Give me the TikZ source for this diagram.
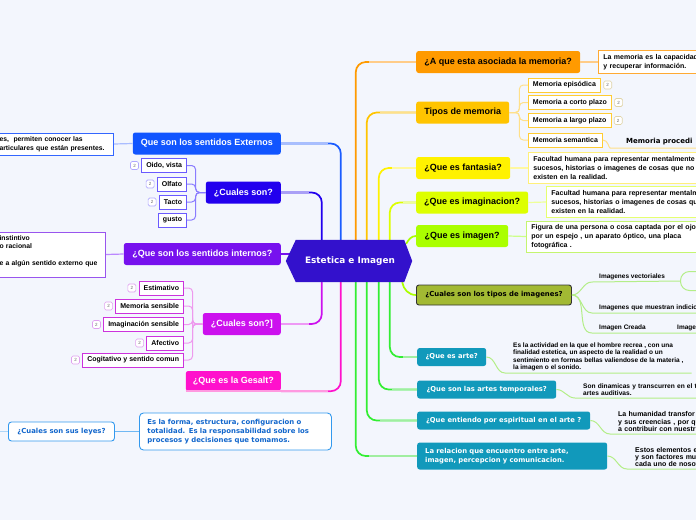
\documentclass[tikz,border=0pt]{standalone}
\usepackage{fontspec}
\setmainfont{Liberation Sans}
\newfontfamily\dv{DejaVu Sans}
\usetikzlibrary{calc,positioning}
\newcommand\myfs[2]{\fontsize{#1}{#2}\selectfont}
\definecolor{bgc}{HTML}{F3F6FD}
\definecolor{hubc}{HTML}{3311CC}
\definecolor{cOr}{HTML}{FF9A00}\definecolor{cOrL}{HTML}{FFCC88}\definecolor{cOrB}{HTML}{FFAA33}
\definecolor{cTm}{HTML}{FFC400}\definecolor{cTmL}{HTML}{FFE08A}\definecolor{cTmB}{HTML}{FFCC33}
\definecolor{cFa}{HTML}{FFF200}\definecolor{cFaL}{HTML}{FFF8A0}\definecolor{cFaB}{HTML}{FFF07A}
\definecolor{cIm}{HTML}{DDFF00}\definecolor{cImL}{HTML}{EEFF99}\definecolor{cImB}{HTML}{E6FF70}
\definecolor{cIg}{HTML}{AAFF00}\definecolor{cIgL}{HTML}{CCFF88}\definecolor{cIgB}{HTML}{C4F570}
\definecolor{cOl}{HTML}{A2B933}
\definecolor{cLeafG}{HTML}{B4EE88}
\definecolor{cTe}{HTML}{1199BB}
\definecolor{cGr}{HTML}{33EE33}\definecolor{cGrL}{HTML}{A0EEA0}
\definecolor{cE1}{HTML}{1155FF}\definecolor{cC1}{HTML}{1A5CFF}\definecolor{cC1L}{HTML}{AABDFF}\definecolor{cE1B}{HTML}{3366FF}
\definecolor{cE2}{HTML}{2200EE}\definecolor{cC2L}{HTML}{A9A0F5}\definecolor{cE2B}{HTML}{6A5AFF}\definecolor{cE2K}{HTML}{8A7CFF}
\definecolor{cE3}{HTML}{7711EE}\definecolor{cE3L}{HTML}{BB88FF}\definecolor{cE3B}{HTML}{9955EE}
\definecolor{cE4}{HTML}{CC11EE}\definecolor{cE4L}{HTML}{EE99F5}\definecolor{cE4B}{HTML}{CC33DD}\definecolor{cE4K}{HTML}{EE9AEE}
\definecolor{cE5}{HTML}{FF11CC}\definecolor{cE5L}{HTML}{FF99E0}
\definecolor{cL}{HTML}{3399EE}\definecolor{cLT}{HTML}{1166CC}
\definecolor{bdV}{HTML}{B0A8FF}\definecolor{bdM}{HTML}{E0A0F0}\definecolor{bdY}{HTML}{E0D4A8}
\begin{document}
\begin{tikzpicture}[x=1pt,y=-1pt,
 mainbox/.style={rounded corners=2.5pt, minimum height=22pt, inner sep=0pt, font=\myfs{9}{10}\bfseries},
 tealbox/.style={rounded corners=2.5pt, fill=cTe, text=white, minimum height=18pt, inner sep=0pt, anchor=west, font=\dv\myfs{6.8}{8.8}\bfseries},
 kid/.style={draw, fill=white, line width=0.9pt, minimum height=14pt, inner xsep=4.5pt, inner ysep=0pt, font=\myfs{7}{8}\bfseries},
 badge/.style={draw, fill=white, rounded corners=1.5pt, minimum size=8pt, inner sep=0pt, line width=0.6pt, font=\myfs{4.5}{5}, text=black!60},
 note/.style={draw, fill=white, line width=0.9pt, inner xsep=5pt, inner ysep=0pt, align=left, font=\myfs{7}{9}\bfseries},
 leaf/.style={inner xsep=7pt, inner ysep=2pt, align=left, font=\myfs{6.5}{7.4}\bfseries, anchor=south west},
 leafl/.style={line width=1pt, cLeafG},
 conn/.style={line width=1.7pt, rounded corners=10pt},
 connfade/.style={line width=1.7pt},
 brk/.style={line width=1pt, rounded corners=4pt}
]
\useasboundingbox (0,0) rectangle (696,520);
\clip (0,0) rectangle (696,520);
\fill[bgc] (0,0) rectangle (696,520);

% hub frame
\node[minimum width=108pt, minimum height=42pt, inner sep=0pt] (hub) at (350,261) {};
\coordinate (tA) at ($(hub.north west)+(26,0)$);
\coordinate (tB) at ($(hub.north west)+(45,0)$);
\coordinate (tC) at ($(hub.north west)+(60,0)$);
\coordinate (tD) at ($(hub.north west)+(71,0)$);
\coordinate (tE) at ($(hub.north west)+(83,0)$);
\coordinate (tF) at ($(hub.north west)+(94,0)$);
\coordinate (bA) at ($(hub.south west)+(26,0)$);
\coordinate (bB) at ($(hub.south west)+(45,0)$);
\coordinate (bC) at ($(hub.south west)+(60,0)$);
\coordinate (bD) at ($(hub.south west)+(71,0)$);
\coordinate (bE) at ($(hub.south west)+(83,0)$);
\coordinate (bF) at ($(hub.south west)+(94,0)$);
\coordinate (rT) at ($(hub.north east)+(2,4)$);
\coordinate (rB) at ($(hub.south east)+(-2,0)$);
\coordinate (lW) at ($(hub.west)+(-6,-7)$);

% ---------- main boxes ----------
\node[mainbox, anchor=west, fill=cOr, minimum width=164pt] (q1) at (416,62) {¿A que esta asociada la memoria?};
\node[mainbox, anchor=west, fill=cTm, minimum width=93pt] (q2) at (416,112.5) {Tipos de memoria};
\node[mainbox, anchor=west, fill=cFa, minimum width=94pt] (q3) at (416,168) {¿Que es fantasia?};
\node[mainbox, anchor=west, fill=cIm, minimum width=112pt] (q4) at (416,202.5) {¿Que es imaginacion?};
\node[mainbox, anchor=west, fill=cIg, minimum width=92pt] (q5) at (416,236) {¿Que es imagen?};
\node[rounded corners=2.5pt, anchor=west, fill=cOl, draw=black!80, line width=0.9pt, minimum width=155pt, minimum height=20pt, inner sep=0pt, font=\dv\myfs{6.9}{8}\bfseries] (q6) at (416,295) {¿Cuales son los tipos de imagenes?};
\node[tealbox, minimum width=69pt] (t1) at (417,357) {¿Que es arte?};
\node[tealbox, minimum width=139pt] (t2) at (417,389.5) {¿Que son las artes temporales?};
\node[tealbox, minimum width=173pt] (t3) at (417,420.5) {¿Que entiendo por espiritual en el arte ?};
\node[tealbox, minimum height=27pt, text width=174pt, inner xsep=8pt, align=left] (t4) at (417,456) {La relacion que encuentro entre arte,\\imagen, percepcion y comunicacion.};

\node[mainbox, anchor=east, fill=cE1, text=white, minimum width=148pt] (e1) at (281,143.5) {Que son los sentidos Externos};
\node[mainbox, anchor=east, fill=cE2, text=white, minimum width=75pt] (e2) at (281,192.5) {¿Cuales son?};
\node[mainbox, anchor=east, fill=cE3, text=white, minimum width=157pt] (e3) at (281,254) {¿Que son los sentidos internos?};
\node[mainbox, anchor=east, fill=cE4, text=white, minimum width=78pt] (e4) at (281,324) {¿Cuales son?]};
\node[mainbox, anchor=east, fill=cE5, text=white, minimum width=95pt, minimum height=20pt] (e5) at (281,381) {¿Que es la Gesalt?};

% ---------- hub connectors ----------
\draw[conn, cE2] (tA) |- (e2.east);
\draw[connfade, cC2L] (e2.east) -- ($(e2.east -| tA)+(-13,0)$);
\draw[conn, cC1] (tB) |- (e1.east);
\draw[connfade, cC1L] (e1.east) -- ($(e1.east -| tB)+(-13,0)$);
\draw[conn, cOr] (tC) |- (q1.west);
\draw[connfade, cOrL] (q1.west) -- ($(q1.west -| tC)+(13,0)$);
\draw[conn, cTm] (tD) |- (q2.west);
\draw[connfade, cTmL] (q2.west) -- ($(q2.west -| tD)+(13,0)$);
\draw[conn, cFa] (tE) |- (q3.west);
\draw[connfade, cFaL] (q3.west) -- ($(q3.west -| tE)+(13,0)$);
\draw[conn, cIm] (tF) |- (q4.west);
\draw[connfade, cImL] (q4.west) -- ($(q4.west -| tF)+(13,0)$);
\draw[connfade, cIg] (rT) to[out=60,in=180] (q5.west);
\draw[connfade, cIg] (rB) to[out=-80,in=180] (q6.west);
\draw[connfade, cE3] (e3.east) -- (lW);

\draw[conn, cE4] (bA) |- (e4.east);
\draw[connfade, cE4L] (e4.east) -- ($(e4.east -| bA)+(-13,0)$);
\draw[conn, cE5] (bB) |- (e5.south east);
\draw[connfade, cE5L] (e5.south east) -- ($(e5.south east -| bB)+(-13,0)$);
\draw[conn, cGr] (bC) |- (t4.west);
\draw[connfade, cGrL] (t4.west) -- ($(t4.west -| bC)+(13,0)$);
\draw[conn, cGr] (bD) |- (t3.west);
\draw[connfade, cGrL] (t3.west) -- ($(t3.west -| bD)+(13,0)$);
\draw[conn, cGr] (bE) |- (t2.west);
\draw[connfade, cGrL] (t2.west) -- ($(t2.west -| bE)+(13,0)$);
\draw[conn, cGr] (bF) |- (t1.west);
\draw[connfade, cGrL] (t1.west) -- ($(t1.west -| bF)+(13,0)$);
\draw[line width=1.5pt, cE5L] (e5.south west) -- (e5.south east);

% hub
\fill[hubc] (hub.north west) -- (hub.north east) -- ($(hub.east)+(8,0)$) -- (hub.south east) -- (hub.south west) -- ($(hub.west)+(-10,0)$) -- cycle;
\node[font=\dv\myfs{8.9}{10}\bfseries, text=white] (hubt) at (hub.center) {Estetica e Imagen};

% ---------- right side children ----------
\node[note, draw=cOrB, anchor=west, minimum height=23pt, text width=115pt] (q1a) at (598,62) {La memoria es la capacidad\\y recuperar información.};
\draw[line width=1.2pt, cOrL] (q1.east) -- (q1a.west);

\node[kid, draw=cTmB, anchor=west] (m1) at (528,85) {Memoria episódica};
\node[kid, draw=cTmB, anchor=west] (m2) at (528,102.5) {Memoria a corto plazo};
\node[kid, draw=cTmB, anchor=west] (m3) at (528,120.5) {Memoria a largo plazo};
\node[kid, draw=cTmB, anchor=west] (m4) at (528,140) {Memoria semantica};
\foreach \m in {m1,m2,m3,m4} \draw[brk, cTmL] (q2.east) -- ++(10,0) |- (\m.west);
\node[badge, draw=bdY, right=2.5pt of m1] (bm1) {2};
\node[badge, draw=bdY, right=2.5pt of m2] (bm2) {2};
\node[badge, draw=bdY, right=2.5pt of m3] (bm3) {2};
\node[leaf, inner xsep=12pt, inner ysep=3pt, font=\dv\myfs{7}{8}\bfseries, text width=80pt] (mp) at (614,148) {Memoria procedi};
\draw[brk, cTmL] (m4.east) to[out=0,in=180] (mp.south west) -- (mp.south east);

\node[note, draw=cFaB, anchor=west, minimum height=31pt, text width=175pt] (q3a) at (528,168) {Facultad humana para representar mentalmente\\sucesos, historias o imagenes de cosas que no\\existen en la realidad.};
\draw[line width=1.2pt, cFaL] (q3.east) -- (q3a.west);
\node[note, draw=cImB, anchor=west, minimum height=31pt, text width=175pt] (q4a) at (546,202) {Facultad humana para representar mentalm\\sucesos, historias o imagenes de cosas qu\\existen en la realidad.};
\draw[line width=1.2pt, cImL] (q4.east) -- (q4a.west);
\node[note, draw=cIgB, anchor=west, minimum height=31pt, text width=175pt] (q5a) at (526,236.5) {Figura de una persona o cosa captada por el ojo,\\por un espejo , un aparato óptico, una placa\\fotográfica .};
\draw[line width=1.2pt, cIgL] (q5.east) -- (q5a.west);

% olive leaves
\node[leaf] (v1) at (592,282) {Imagenes vectoriales};
\node[draw=cLeafG, line width=1pt, rounded corners=9pt, anchor=west, minimum width=40pt, minimum height=19pt, inner sep=0pt] (vb) at (680,281) {};
\node[leaf, text width=110pt] (v2) at (592,313) {Imagenes que muestran indicio};
\node[leaf] (v3) at (592,333) {Imagen Creada};
\node[leaf, text width=40pt] (v4) at (670,333) {Image};
\draw[leafl] (q6.east) to[out=0,in=180] (v1.south west) -- (vb.west);
\draw[leafl] (q6.east) to[out=0,in=180] (v2.south west) -- (v2.south east);
\draw[leafl] (q6.east) to[out=0,in=180] (v3.south west) -- (v4.south west) -- (v4.south east);

% teal leaves
\node[leaf, inner xsep=8pt] (a1) at (505,373) {Es la actividad en la que el hombre recrea , con una\\finalidad estetica, un aspecto de la realidad o un\\sentimiento en formas bellas valiendose de la materia ,\\la imagen o el sonido.};
\node[leaf, inner xsep=8pt, text width=130pt, font=\myfs{6.6}{7.6}\bfseries] (a2) at (575,398) {Son dinamicas y transcurren en el ti\\artes auditivas.};
\node[leaf, inner xsep=8pt, text width=100pt, font=\myfs{7}{7.6}\bfseries] (a3) at (610,434) {La humanidad transfor\\y sus creencias , por qu\\a contribuir con nuestr};
\node[leaf, inner xsep=8pt, text width=100pt, font=\myfs{7}{7.2}\bfseries] (a4) at (627,469) {Estos elementos e\\y son factores mu\\cada uno de nosot};
\draw[leafl] (t1.east) to[out=0,in=180] (a1.south west) -- (a1.south east);
\draw[leafl] (t2.east) to[out=0,in=180] (a2.south west) -- (a2.south east);
\draw[leafl] (t3.east) to[out=0,in=180] (a3.south west) -- (a3.south east);
\draw[leafl] (t4.east) to[out=0,in=180] (a4.south west) -- (a4.south east);

% ---------- left side children ----------
\node[note, draw=cE1B, anchor=east, minimum height=22pt, text width=110pt, inner xsep=4pt, font=\myfs{6.8}{9}\bfseries] (e1a) at (114,144) {es,\ \ permiten conocer las\\articulares que están presentes.};
\draw[line width=1.2pt, cC1L] (e1.west) -- (e1a.east);

\node[kid, draw=cE2B, anchor=east] (c21) at (187,165.5) {Oido, vista};
\node[kid, draw=cE2B, anchor=east] (c22) at (187,184) {Olfato};
\node[kid, draw=cE2B, anchor=east] (c23) at (187,202) {Tacto};
\node[kid, draw=cE2B, anchor=east] (c24) at (187,220) {gusto};
\foreach \c in {c21,c22,c23,c24} \draw[brk, cE2K] (e2.west) -- ++(-10,0) |- (\c.east);
\node[badge, draw=bdV, left=2.5pt of c21] (b21) {2};
\node[badge, draw=bdV, left=2.5pt of c22] (b22) {2};
\node[badge, draw=bdV, left=2.5pt of c23] (b23) {2};

\node[note, draw=cE3B, anchor=east, minimum height=45pt, text width=102pt, inner xsep=4pt, font=\myfs{6.8}{8.3}\bfseries] (e3a) at (106,254.5) {instintivo\\o racional\\\mbox{}\\e a algún sentido externo que\\\mbox{}};
\draw[line width=1.2pt, cE3L] (e3.west) -- (e3a.east);

\node[kid, draw=cE4B, anchor=east] (c41) at (184,288) {Estimativo};
\node[kid, draw=cE4B, anchor=east] (c42) at (184,306) {Memoria sensible};
\node[kid, draw=cE4B, anchor=east] (c43) at (184,324.5) {Imaginación sensible};
\node[kid, draw=cE4B, anchor=east] (c44) at (184,343) {Afectivo};
\node[kid, draw=cE4B, anchor=east] (c45) at (184,360) {Cogitativo y sentido comun};
\foreach \c in {c41,c42,c43,c44,c45} \draw[brk, cE4K] (e4.west) -- ++(-10,0) |- (\c.east);
\foreach \c/\b in {c41/b41,c42/b42,c43/b43,c44/b44,c45/b45} \node[badge, draw=bdM, left=2.5pt of \c] (\b) {2};

% leyes
\coordinate (lm) at (0,431.5);
\node[draw=cL, fill=white, line width=0.9pt, rounded corners=3pt, anchor=west, minimum width=106pt, minimum height=19pt, inner sep=0pt, text=cLT, font=\dv\myfs{6.9}{8}\bfseries] (l1) at (8,431.5) {¿Cuales son sus leyes?};
\node[draw=cL, fill=white, line width=0.9pt, rounded corners=4pt, anchor=west, minimum height=37pt, text width=176pt, inner xsep=8pt, inner ysep=0pt, align=left, text=cLT, font=\dv\myfs{6.9}{8.8}\bfseries] (l2) at (139,431.5) {Es la forma, estructura, configuracion o\\totalidad. Es la responsabilidad sobre los\\procesos y decisiones que tomamos.};
\draw[line width=1pt, cL!70] (l1.east) -- (l2.west);
\draw[line width=1pt, cL!40] (lm) -- (l1.west);
\end{tikzpicture}
\end{document}
